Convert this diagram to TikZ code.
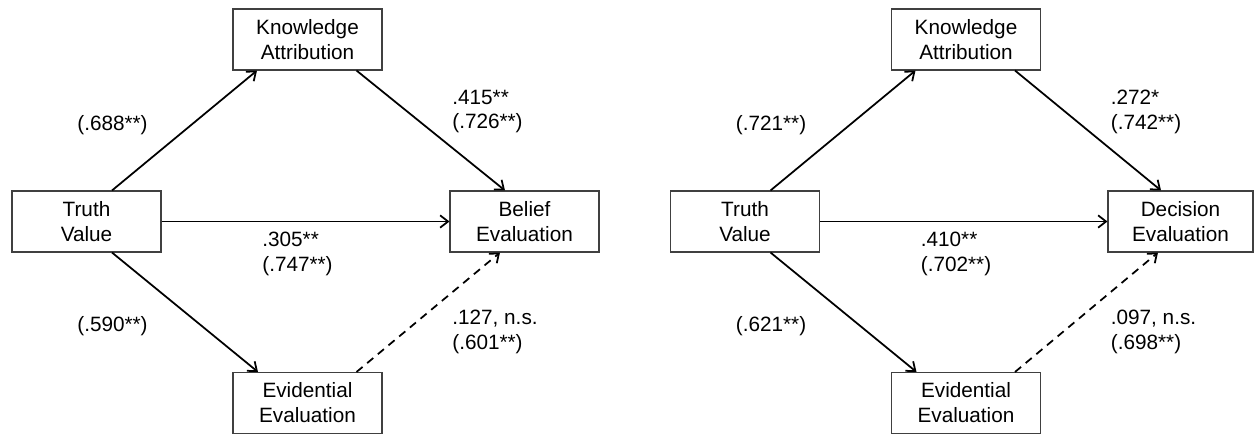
\documentclass[tikz,border=0pt]{standalone}
\usepackage{fontspec}
\setmainfont{Liberation Sans}
\usetikzlibrary{arrows.meta}

\begin{document}
\begin{tikzpicture}[
        box/.style={rectangle, draw=black!75, line width=0.6pt, minimum width=2.98cm, minimum height=1.22cm, align=center, inner sep=0pt, font=\fontsize{11.8}{14.2}\selectfont},
        coef/.style={anchor=west, align=left, inner sep=0pt, font=\fontsize{11.8}{14.2}\selectfont},
        arr/.style={-{Straight Barb[length=4.5pt, width=7pt]}, line width=1pt}
    ]
        \useasboundingbox (0,0) rectangle (25.08,8.68);

        % belief model
        \node (truthA) at (1.73,4.25)[box] {Truth\\Value};
        \node (knowA) at (6.15,7.89)[box] {Knowledge\\Attribution};
        \node (beliefA) at (10.49,4.25)[box] {Belief\\Evaluation};
        \node (evidA) at (6.15,0.62)[box] {Evidential\\Evaluation};

        \draw[arr] ([xshift=0.51cm]truthA.north) -- ([xshift=-1.01cm]knowA.south);
        \draw[arr] ([xshift=0.98cm]knowA.south) -- ([xshift=-0.39cm]beliefA.north);
        \draw[arr] (truthA) -- (beliefA);
        \draw[arr] ([xshift=0.51cm]truthA.south) -- ([xshift=-0.99cm]evidA.north);
        \draw[arr, dash pattern=on 4.5pt off 3.4pt] ([xshift=0.98cm]evidA.north) -- ([xshift=-0.49cm]beliefA.south);

        \node (ka688) at (1.54,6.18)[coef] {(.688**)};
        \node (kb415) at (9.04,6.45)[coef] {.415**\\(.726**)};
        \node (tb305) at (5.24,3.60)[coef] {.305**\\(.747**)};
        \node (te590) at (1.54,2.16)[coef] {(.590**)};
        \node (eb127) at (9.04,2.05)[coef] {.127, n.s.\\(.601**)};

        % decision model
        \node (truthB) at (14.90,4.25)[box] {Truth\\Value};
        \node (knowB) at (19.32,7.89)[box] {Knowledge\\Attribution};
        \node (decisionB) at (23.61,4.25)[box, minimum width=2.9cm] {Decision\\Evaluation};
        \node (evidB) at (19.32,0.62)[box] {Evidential\\Evaluation};

        \draw[arr] ([xshift=0.51cm]truthB.north) -- ([xshift=-1.01cm]knowB.south);
        \draw[arr] ([xshift=0.98cm]knowB.south) -- ([xshift=-0.39cm]decisionB.north);
        \draw[arr] (truthB) -- (decisionB);
        \draw[arr] ([xshift=0.51cm]truthB.south) -- ([xshift=-0.99cm]evidB.north);
        \draw[arr, dash pattern=on 4.5pt off 3.4pt] ([xshift=0.98cm]evidB.north) -- ([xshift=-0.45cm]decisionB.south);

        \node (ka721) at (14.71,6.18)[coef] {(.721**)};
        \node (kd272) at (22.21,6.45)[coef] {.272*\\(.742**)};
        \node (td410) at (18.41,3.60)[coef] {.410**\\(.702**)};
        \node (te621) at (14.71,2.16)[coef] {(.621**)};
        \node (ed097) at (22.21,2.05)[coef] {.097, n.s.\\(.698**)};

    \end{tikzpicture}
\end{document}
